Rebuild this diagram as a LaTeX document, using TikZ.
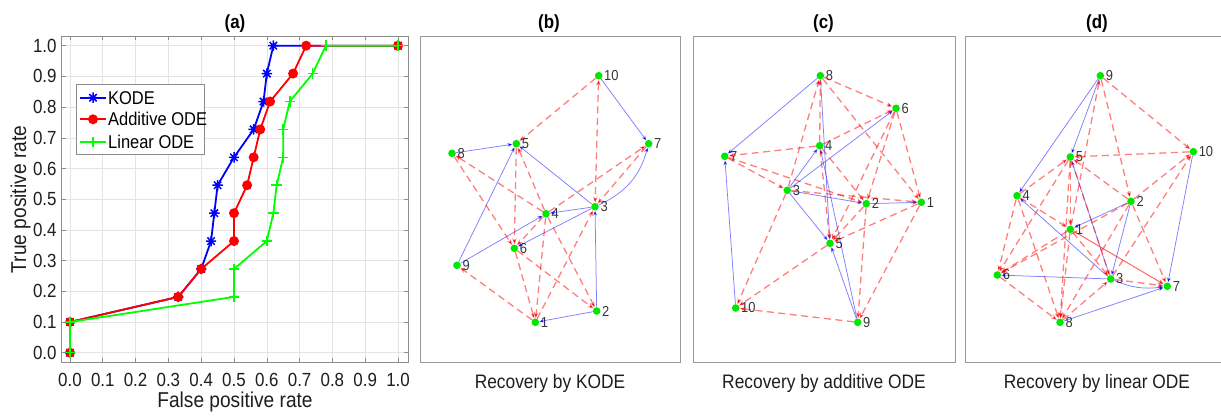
\documentclass[tikz,border=0pt]{standalone}
\usepackage{fontspec}
\setmainfont{Liberation Sans}
\newfontfamily\figfont[FakeStretch=0.89]{Liberation Sans}
\usetikzlibrary{arrows.meta,plotmarks}

\definecolor{kodeblue}{RGB}{0,0,255}
\definecolor{addred}{RGB}{255,0,0}
\definecolor{lingreen}{RGB}{0,255,0}
\definecolor{dotgreen}{RGB}{0,232,0}
\definecolor{gridgray}{RGB}{228,228,228}
\definecolor{axisgray}{RGB}{140,140,140}
\definecolor{framegray}{RGB}{155,155,155}
\definecolor{ticktext}{RGB}{30,30,30}
\definecolor{numtext}{RGB}{55,55,55}

% eight-armed asterisk marker
\pgfdeclareplotmark{mstar}{%
  \pgfpathmoveto{\pgfqpoint{-\pgfplotmarksize}{0pt}}%
  \pgfpathlineto{\pgfqpoint{\pgfplotmarksize}{0pt}}%
  \pgfpathmoveto{\pgfqpoint{0pt}{-\pgfplotmarksize}}%
  \pgfpathlineto{\pgfqpoint{0pt}{\pgfplotmarksize}}%
  \pgfpathmoveto{\pgfqpoint{-.707\pgfplotmarksize}{-.707\pgfplotmarksize}}%
  \pgfpathlineto{\pgfqpoint{.707\pgfplotmarksize}{.707\pgfplotmarksize}}%
  \pgfpathmoveto{\pgfqpoint{-.707\pgfplotmarksize}{.707\pgfplotmarksize}}%
  \pgfpathlineto{\pgfqpoint{.707\pgfplotmarksize}{-.707\pgfplotmarksize}}%
  \pgfusepathqstroke}

\tikzset{
  ttl/.style={font=\figfont\bfseries\fontsize{19}{19}\selectfont, anchor=base, inner sep=0pt},
  ticklbl/.style={font=\figfont\fontsize{19}{19}\selectfont, text=ticktext, inner sep=0pt},
  axlbl/.style={font=\figfont\fontsize{21.5}{21.5}\selectfont, text=ticktext, inner sep=0pt, anchor=base},
  capt/.style={font=\figfont\fontsize{19.5}{20}\selectfont, text=ticktext, anchor=base, inner sep=0pt},
  legtext/.style={font=\figfont\fontsize{18.5}{18.5}\selectfont, text=black, anchor=west, inner sep=0pt},
  vertex/.style={circle, fill=dotgreen, inner sep=0pt, minimum size=7.6pt},
  vlbl/.style={font=\figfont\fontsize{14.5}{14.5}\selectfont, text=numtext, inner sep=0.5pt, label distance=0.8pt},
  solidarc/.style={draw=kodeblue, draw opacity=0.5, line width=0.75pt, -{Stealth[length=5pt,width=4pt]}},
  dasharc/.style={draw=addred, draw opacity=0.5, line width=1.3pt, dash pattern=on 7pt off 4.5pt, -{Stealth[length=6pt,width=4.5pt]}},
  dasharcboth/.style={dasharc, {Stealth[length=6pt,width=4.5pt]}-{Stealth[length=6pt,width=4.5pt]}},
  solidredarc/.style={draw=addred, draw opacity=0.6, line width=1pt, -{Stealth[length=6pt,width=4.5pt]}},
  panel/.style={draw=framegray, line width=0.8pt},
  rocline/.style={line width=1.8pt, mark options={line width=1.5pt, solid}},
}

\begin{document}
\begin{tikzpicture}[x=1pt, y=-1pt]
\useasboundingbox (0,0) rectangle (1221,417);
\fill[white] (0,0) rectangle (1221,417);

% ---------------- (a) ROC curves ----------------
\begin{scope}[shift={(70pt,-352.7pt)}, x=328pt, y=307pt]
  \foreach \i in {0,...,10} {
    \draw[gridgray, line width=0.6pt] (\i/10,-0.03) -- (\i/10,1.031);
    \draw[gridgray, line width=0.6pt] (-0.025,\i/10) -- (1.031,\i/10);
  }
  \draw[axisgray, line width=0.8pt] (-0.025,-0.03) rectangle (1.031,1.031);
  \foreach \i in {0,...,10} {
    \draw[axisgray, line width=0.6pt] (\i/10,-0.03) -- ++(0pt,4pt);
    \draw[axisgray, line width=0.6pt] (\i/10,1.031) -- ++(0pt,-4pt);
    \draw[axisgray, line width=0.6pt] (-0.025,\i/10) -- ++(4pt,0pt);
    \draw[axisgray, line width=0.6pt] (1.031,\i/10) -- ++(-4pt,0pt);
  }
  \foreach \i/\t in {0/0.0,1/0.1,2/0.2,3/0.3,4/0.4,5/0.5,6/0.6,7/0.7,8/0.8,9/0.9,10/1.0} {
    \node[ticklbl, anchor=base] (xt\i) at (\i/10,-0.1107) {\t};
    \node[ticklbl, anchor=east] (yt\i) at (-0.0405,\i/10) {\t};
  }
  % KODE
  \draw[rocline, color=kodeblue, mark=mstar, mark size=5.2pt] plot coordinates {
    (0,0) (0,0.1) (0.33,0.1818) (0.40,0.2727) (0.43,0.3636) (0.44,0.4545)
    (0.45,0.5455) (0.50,0.6364) (0.56,0.7273) (0.59,0.8182) (0.60,0.9091)
    (0.62,1.0) (1,1)};
  % additive ODE
  \draw[rocline, color=addred, mark=*, mark size=4.2pt] plot coordinates {
    (0,0) (0,0.1) (0.33,0.1818) (0.40,0.2727) (0.50,0.3636) (0.50,0.4545)
    (0.54,0.5455) (0.56,0.6364) (0.58,0.7273) (0.61,0.8182) (0.68,0.9091)
    (0.72,1.0) (1,1)};
  % linear ODE
  \draw[rocline, color=lingreen, mark=+, mark size=5.2pt] plot coordinates {
    (0,0) (0,0.1) (0.50,0.1818) (0.50,0.2727) (0.60,0.3636) (0.62,0.4545)
    (0.63,0.5455) (0.65,0.6364) (0.65,0.7273) (0.67,0.8182) (0.74,0.9091)
    (0.78,1.0) (1,1)};
\end{scope}

% legend
\draw[fill=white, draw=axisgray, line width=0.7pt] (76.7,84) rectangle (204.3,154.3);
\draw[rocline, color=kodeblue] plot[mark=mstar, mark size=5.2pt, mark indices={2}] coordinates {(80,97.7) (93,97.7) (106,97.7)};
\draw[rocline, color=addred] plot[mark=*, mark size=4.2pt, mark indices={2}] coordinates {(80,119.3) (93,119.3) (106,119.3)};
\draw[rocline, color=lingreen] plot[mark=+, mark size=5.2pt, mark indices={2}] coordinates {(80,142.3) (93,142.3) (106,142.3)};
\node[legtext] (lg1) at (108,97.7) {KODE};
\node[legtext] (lg2) at (108,119.3) {Additive ODE};
\node[legtext] (lg3) at (108,142.3) {Linear ODE};

\node[axlbl] (xlab) at (235,407.5) {False positive rate};
\node[axlbl, rotate=90] (ylab) at (26,199.5) {True positive rate};

% panel titles and captions
\node[ttl] (ta) at (235,29) {(a)};
\node[ttl] (tb) at (549,29) {(b)};
\node[ttl] (tc) at (823.5,29) {(c)};
\node[ttl] (td) at (1097,29) {(d)};
\node[capt] (cb) at (550,388) {Recovery by KODE};
\node[capt] (cc) at (824,388) {Recovery by additive ODE};
\node[capt] (cd) at (1097,388) {Recovery by linear ODE};

% frames of the network panels
\draw[panel] (420.7,36.7) rectangle (680.7,362.3);
\draw[panel] (693.3,36.7) rectangle (955.7,362.3);
\draw[panel] (1222,36.7) -- (965.7,36.7) -- (965.7,362.3) -- (1222,362.3);

% ---------------- (b) network recovered by KODE ----------------
\foreach \n/\x/\y in {1/535.3/322.3, 2/596.7/311, 3/595/206.7, 4/546/213.7, 5/516.3/143.7,
                     6/514.3/248.3, 7/648.7/143.7, 8/452/153.3, 9/457/265.3, 10/598.7/75.7}
  \node[vertex, label={[vlbl]0:\n}] (b\n) at (\x,\y) {};
\foreach \s/\t in {b10/b7, b8/b5, b3/b5, b3/b4, b3/b6, b9/b5, b9/b4, b2/b3, b2/b1}
  \draw[solidarc] (\s) -- (\t);
\draw[solidarc] (b3) to[bend right=25] (b7);
\foreach \s/\t in {b10/b5, b4/b7, b7/b3, b4/b8, b8/b6, b5/b6, b4/b5, b4/b6, b4/b2,
                   b6/b2, b6/b1, b4/b1, b1/b3, b1/b9}
  \draw[dasharc] (\s) -- (\t);
\draw[dasharcboth] (b10) -- (b3);

% ---------------- (c) network recovered by additive ODE ----------------
\foreach \n/\x/\y in {1/921.3/202.3, 2/866.3/203.7, 3/787.3/190.3, 4/819.7/145.7, 5/830/243.3,
                     6/896/108.3, 7/724.7/156.3, 8/820.3/75.7, 9/857.7/322.3, 10/735.7/308}
  \node[vertex, label={[vlbl]0:\n}] (c\n) at (\x,\y) {};
\foreach \s/\t in {c8/c7, c10/c7, c8/c5, c9/c4, c9/c5, c3/c4, c3/c6, c3/c2, c2/c1, c3/c5}
  \draw[solidarc] (\s) -- (\t);
\foreach \s/\t in {c8/c6, c8/c1, c3/c8, c4/c8, c4/c5, c4/c6, c4/c7, c7/c3, c7/c2, c3/c1,
                   c4/c2, c6/c1, c6/c5, c6/c2, c2/c9, c1/c9, c1/c5, c2/c5, c5/c10, c3/c10, c9/c10}
  \draw[dasharc] (\s) -- (\t);

% ---------------- (d) network recovered by linear ODE ----------------
\foreach \n/\x/\y in {1/1070.3/229.3, 2/1131/201.3, 3/1110.7/279, 4/1017/195.7, 5/1070.3/157,
                     6/997.3/275, 7/1167.3/286.3, 8/1060/322.3, 9/1100.3/75.7, 10/1193.3/151.7}
  \node[vertex, label={[vlbl]0:\n}] (d\n) at (\x,\y) {};
\foreach \s/\t in {d9/d4, d9/d5, d3/d5, d3/d4, d2/d1, d2/d3, d10/d7, d3/d6, d8/d7}
  \draw[solidarc] (\s) -- (\t);
\draw[solidarc] (d3) to[bend right=15] (d7);
\foreach \s/\t in {d9/d10, d10/d5, d1/d9, d9/d2, d2/d5, d2/d10, d3/d10, d4/d5, d5/d6,
                   d5/d8, d5/d1, d5/d3, d4/d6, d4/d8, d4/d1, d2/d6, d1/d6, d2/d7, d8/d3,
                   d6/d8, d1/d3, d3/d7, d2/d8, d1/d8}
  \draw[dasharc] (\s) -- (\t);
\draw[solidredarc] (d1) -- (d7);
\end{tikzpicture}
\end{document}
